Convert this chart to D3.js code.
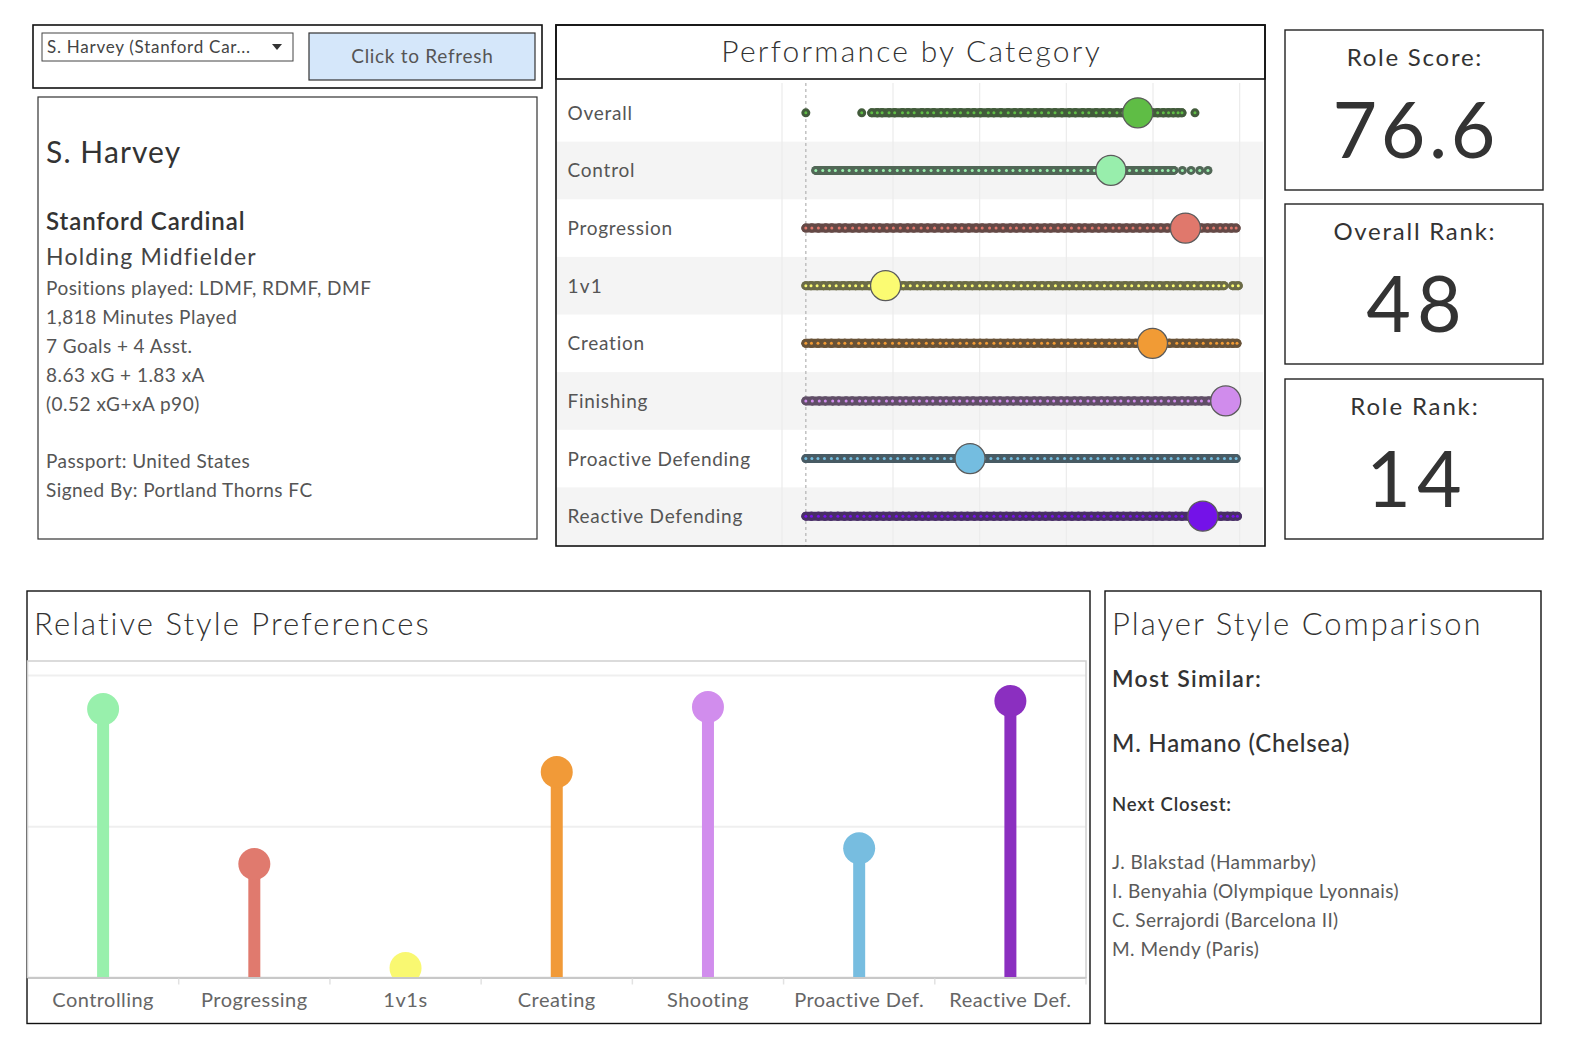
<!DOCTYPE html>
<html>
<head>
<meta charset="utf-8">
<script src="https://cdn.jsdelivr.net/npm/d3@7"></script>
<style>
  html, body { margin: 0; padding: 0; background: #fff; }
  svg { display: block; font-family: Lato, "Open Sans", sans-serif; }
</style>
</head>
<body>
<script>
// ---------------- DATA ----------------
const playerName = "S. Harvey";
const dropdownLabel = "S. Harvey (Stanford Car...";
const buttonLabel = "Click to Refresh";
const infoLines = [
  "Positions played: LDMF, RDMF, DMF",
  "1,818 Minutes Played",
  "7 Goals + 4 Asst.",
  "8.63 xG + 1.83 xA",
  "(0.52 xG+xA p90)"
];
const infoFooter = ["Passport: United States", "Signed By: Portland Thorns FC"];
const team = "Stanford Cardinal";
const role = "Holding Midfielder";

const kpiLabels = ["Role Score:", "Overall Rank:", "Role Rank:"];
const kpiValues = ["76.6", "48", "14"];

const perfCategories = ["Overall", "Control", "Progression", "1v1", "Creation", "Finishing", "Proactive Defending", "Reactive Defending"];
const perfPlayer = [76.6, 70.4, 87.6, 18.4, 80.0, 96.9, 37.9, 91.6];
const perfColors = ["#5fbd45", "#98eeac", "#e0786c", "#fbfb72", "#f19b35", "#d08cec", "#74bde0", "#7412e8"];
const perfTicks = [0, 20, 40, 60, 80, 100];

// population scores of all players, per category
const popOverall = [0, 12.9, 15.2, 16.5, 17.6, 19.2, 20.5, 22.3, 23.6, 25.0, 26.8, 28.1, 29.5, 31.2, 32.6, 34.3, 35.7, 37.4, 38.8, 40.3, 42.1, 43.4, 45.0, 46.7, 48.2, 49.6, 51.3, 52.9, 54.4, 56.0, 57.5, 59.1, 60.8, 62.2, 63.9, 65.3, 67.0, 68.6, 70.1, 71.8, 73.2, 74.9, 76.2, 77.5, 78.3, 79.8, 81.2, 82.5, 83.7, 84.8, 85.9, 86.8, 89.8];
const popControl = [2.3, 3.9, 5.4, 6.8, 8.5, 10.0, 11.6, 13.1, 14.8, 16.3, 17.9, 19.4, 21.1, 22.6, 24.2, 25.8, 27.3, 28.9, 30.5, 32.0, 33.7, 35.2, 36.8, 38.4, 39.9, 41.5, 43.1, 44.6, 46.3, 47.8, 49.4, 51.0, 52.5, 54.1, 55.7, 57.2, 58.8, 60.4, 61.9, 63.5, 65.1, 66.6, 68.3, 70.0, 71.6, 73.2, 74.7, 76.3, 77.8, 79.4, 80.9, 82.3, 83.6, 84.9, 86.9, 88.9, 90.9, 92.8];
const popProgression = [0, 1.4, 2.9, 4.6, 6.0, 7.7, 9.1, 10.8, 12.3, 13.9, 15.6, 17.0, 18.7, 20.2, 21.8, 23.5, 24.9, 26.6, 28.1, 29.7, 31.4, 32.8, 34.5, 36.0, 37.6, 39.3, 40.7, 42.4, 43.9, 45.5, 47.2, 48.6, 50.3, 51.8, 53.4, 55.1, 56.5, 58.2, 59.7, 61.3, 63.0, 64.4, 66.1, 67.6, 69.2, 70.9, 72.3, 74.0, 75.5, 77.1, 78.8, 80.2, 81.9, 83.4, 85.0, 86.6, 88.1, 89.7, 91.2, 92.7, 94.1, 95.6, 96.9, 98.2, 99.3];
const pop1v1 = [0, 1.2, 2.6, 4.1, 5.5, 7.0, 8.6, 10.1, 11.5, 13.0, 14.6, 16.2, 17.8, 19.3, 20.9, 22.5, 24.1, 25.7, 27.2, 28.8, 30.5, 32.0, 33.6, 35.3, 36.8, 38.4, 40.1, 41.6, 43.2, 44.9, 46.4, 48.0, 49.7, 51.2, 52.8, 54.5, 56.0, 57.6, 59.3, 60.8, 62.4, 64.1, 65.6, 67.2, 68.9, 70.4, 72.0, 73.7, 75.2, 76.8, 78.5, 80.0, 81.6, 83.3, 84.8, 86.4, 88.1, 89.6, 91.2, 92.7, 94.0, 95.3, 96.5, 98.5, 99.8];
const popCreation = [0, 1.3, 2.8, 4.4, 5.9, 7.6, 9.0, 10.5, 12.2, 13.7, 15.4, 16.8, 18.3, 20.0, 21.5, 23.2, 24.6, 26.1, 27.8, 29.3, 31.0, 32.4, 33.9, 35.6, 37.1, 38.8, 40.2, 41.7, 43.4, 44.9, 46.6, 48.0, 49.5, 51.2, 52.7, 54.4, 55.8, 57.3, 59.0, 60.5, 62.2, 63.6, 65.1, 66.8, 68.3, 70.0, 71.4, 72.9, 74.6, 76.1, 77.8, 79.2, 80.7, 82.4, 83.9, 85.6, 87.0, 88.5, 90.2, 91.7, 93.4, 94.8, 96.1, 97.4, 98.5, 99.5];
const popFinishing = [0, 1.5, 3.1, 4.5, 6.2, 7.6, 9.3, 10.7, 12.4, 13.8, 15.5, 16.9, 18.6, 20.0, 21.7, 23.1, 24.8, 26.2, 27.9, 29.3, 31.0, 32.4, 34.1, 35.5, 37.2, 38.6, 40.3, 41.7, 43.4, 44.8, 46.5, 47.9, 49.6, 51.0, 52.7, 54.1, 55.8, 57.2, 58.9, 60.3, 62.0, 63.4, 65.1, 66.5, 68.2, 69.6, 71.3, 72.7, 74.4, 75.8, 77.5, 78.9, 80.6, 82.0, 83.7, 85.1, 86.8, 88.2, 89.9, 91.3, 93.0, 94.4, 95.8, 97.4, 98.9];
const popProactive = [0, 1.4, 2.8, 4.3, 5.9, 7.3, 8.9, 10.4, 11.9, 13.5, 15.0, 16.6, 18.1, 19.6, 21.2, 22.7, 24.3, 25.8, 27.3, 28.9, 30.4, 32.0, 33.5, 35.0, 36.6, 38.1, 39.7, 41.2, 42.7, 44.3, 45.8, 47.4, 48.9, 50.4, 52.0, 53.5, 55.1, 56.6, 58.1, 59.7, 61.2, 62.8, 64.3, 65.8, 67.4, 68.9, 70.5, 72.0, 73.5, 75.1, 76.6, 78.2, 79.7, 81.2, 82.8, 84.3, 85.9, 87.4, 88.9, 90.5, 92.0, 93.6, 95.1, 96.6, 98.0, 99.3];
const popReactive = [0, 1.3, 2.9, 4.4, 5.8, 7.4, 8.9, 10.3, 11.9, 13.4, 14.8, 16.4, 17.9, 19.3, 20.9, 22.4, 23.8, 25.4, 26.9, 28.3, 29.9, 31.4, 32.8, 34.4, 35.9, 37.3, 38.9, 40.4, 41.8, 43.4, 44.9, 46.3, 47.9, 49.4, 50.8, 52.4, 53.9, 55.3, 56.9, 58.4, 59.8, 61.4, 62.9, 64.3, 65.9, 67.4, 68.8, 70.4, 71.9, 73.3, 74.9, 76.4, 77.8, 79.4, 80.9, 82.3, 83.9, 85.4, 86.8, 88.4, 89.9, 91.3, 92.9, 94.4, 95.8, 97.3, 98.6, 99.6];
const perfPopulations = [popOverall, popControl, popProgression, pop1v1, popCreation, popFinishing, popProactive, popReactive];

const styleCategories = ["Controlling", "Progressing", "1v1s", "Creating", "Shooting", "Proactive Def.", "Reactive Def."];
const styleValues = [0.887, 0.375, 0.031, 0.679, 0.894, 0.427, 0.914];
const styleColors = ["#98f0ac", "#e07a6e", "#f9f871", "#f19a38", "#d18ded", "#77bde0", "#8b2fc0"];
const styleTicks = [0, 0.5, 1];

const mostSimilar = "M. Hamano (Chelsea)";
const nextClosest = ["J. Blakstad (Hammarby)", "I. Benyahia (Olympique Lyonnais)", "C. Serrajordi (Barcelona II)", "M. Mendy (Paris)"];

// ---------------- DRAW ----------------
const W = 1578, H = 1046;
const svg = d3.select("body").append("svg").attr("width", W).attr("height", H);

// widen Lato glyph runs to match the reference typeface metrics
function widen(sel, stretch) {
  if (!stretch || stretch === 1) return sel;
  sel.each(function () {
    const n = this.textContent.length;
    const L = this.getComputedTextLength();
    const ls = L * (stretch - 1) / Math.max(1, n - 1);
    const t = d3.select(this).attr("letter-spacing", ls.toFixed(2));
    if (t.attr("text-anchor") === "middle") t.attr("dx", (ls / 2).toFixed(2));
  });
  return sel;
}
function txt(g, x, y, s, size, o = {}) {
  const t = g.append("text").attr("x", x).attr("y", y).text(s)
    .attr("font-size", size)
    .attr("font-weight", o.weight || 400)
    .attr("fill", o.fill || "#555")
    .attr("text-anchor", o.anchor || "start");
  return widen(t, o.stretch);
}
function box(x0, y0, x1, y1, stroke = "#222", sw = 1.4, fill = "none") {
  svg.append("rect").attr("x", x0).attr("y", y0).attr("width", x1 - x0).attr("height", y1 - y0)
    .attr("fill", fill).attr("stroke", stroke).attr("stroke-width", sw);
}

// ---- top-left controls ----
box(33, 25, 542, 88, "#111", 1.6);
box(42, 33, 293, 61, "#444", 1);
txt(svg, 47, 53, dropdownLabel, 17, { fill: "#444", stretch: 1.1 });
svg.append("path").attr("d", "M272,44 L282,44 L277,50 Z").attr("fill", "#333");
box(309, 33, 535, 80, "#333", 1.2, "#d5e7fa");
txt(svg, 422, 63, buttonLabel, 19, { fill: "#555", anchor: "middle", stretch: 1.08 });

// ---- info box ----
box(38, 97, 537, 539, "#333", 1.2);
txt(svg, 46, 163, playerName, 30, { fill: "#333", stretch: 1.07 });
txt(svg, 46, 230, team, 24, { fill: "#333", weight: 600, stretch: 1.08 });
txt(svg, 46, 265, role, 23, { fill: "#444", stretch: 1.11 });
infoLines.forEach((s, i) => txt(svg, 46, 295 + i * 29, s, 19, { fill: "#555", stretch: 1.05 }));
infoFooter.forEach((s, i) => txt(svg, 46, 468 + i * 29, s, 19, { fill: "#555", stretch: 1.05 }));

// ---- KPI boxes ----
const kpiTops = [30, 204, 379], kpiH = 160;
kpiLabels.forEach((lab, i) => {
  const t = kpiTops[i];
  box(1285, t, 1543, t + kpiH, "#222", 1.4);
  txt(svg, 1414, t + 35.5, lab, 24, { fill: "#333", anchor: "middle", stretch: 1.15 });
  txt(svg, 1414, t + 128, kpiValues[i], 77, { fill: "#333", anchor: "middle", stretch: 1.07 });
});

// ---- Performance by Category ----
const pL = 556, pR = 1265, pT = 25, pTitleB = 79, pB = 546;
const x = d3.scaleLinear().domain([-5.5, 105.5]).range([782, 1263]);
const yb = d3.scaleBand().domain(perfCategories).range([84, 545]);
const perf = svg.append("g");
perf.selectAll("rect.band").data(perfCategories.filter((d, i) => i % 2 === 1)).join("rect")
  .attr("x", pL).attr("width", 1263 - pL).attr("y", d => yb(d)).attr("height", yb.bandwidth())
  .attr("fill", "#f4f4f4");
// gridlines via axis
const gAxis = perf.append("g").attr("transform", `translate(0,${pB})`)
  .call(d3.axisBottom(x).tickValues(perfTicks.slice(1)).tickSize(-(pB - pTitleB - 4)).tickFormat(""));
gAxis.select(".domain").remove();
gAxis.selectAll("line").attr("stroke", "#ebebeb").attr("stroke-width", 1.2);
perf.append("line").attr("x1", x(-5.5)).attr("x2", x(-5.5)).attr("y1", 83).attr("y2", pB)
  .attr("stroke", "#ebebeb").attr("stroke-width", 1.2);
perf.append("line").attr("x1", x(perfTicks[0])).attr("x2", x(perfTicks[0])).attr("y1", 83).attr("y2", pB)
  .attr("stroke", "#b8b8b8").attr("stroke-width", 1.3).attr("stroke-dasharray", "3,3");
// row labels
perfCategories.forEach(c => txt(perf, 567.5, yb(c) + yb.bandwidth() / 2 + 7, c, 19, { fill: "#555", stretch: 1.075 }));
// strips
perfCategories.forEach((c, i) => {
  const cy = yb(c) + yb.bandwidth() / 2;
  const pop = perfPopulations[i].slice().sort((a, b) => a - b);
  const halo = d3.interpolateRgb(perfColors[i], "#383838")(0.74);
  const g = perf.append("g");
  const pairs = d3.pairs(pop).filter(([a, b]) => b - a <= 1.85);
  g.selectAll("line").data(pairs).join("line")
    .attr("x1", d => x(d[0])).attr("x2", d => x(d[1])).attr("y1", cy).attr("y2", cy)
    .attr("stroke", halo).attr("stroke-width", 9).attr("stroke-linecap", "round");
  g.selectAll("circle.h").data(pop).join("circle").attr("class", "h")
    .attr("cx", d => x(d)).attr("cy", cy).attr("r", 4.5).attr("fill", halo);
  g.selectAll("circle.c").data(pop).join("circle").attr("class", "c")
    .attr("cx", d => x(d)).attr("cy", cy).attr("r", 1.5).attr("fill", perfColors[i]);
  g.append("circle").attr("cx", x(perfPlayer[i])).attr("cy", cy).attr("r", 15)
    .attr("fill", perfColors[i]).attr("stroke", "#5b5b5b").attr("stroke-width", 1.3);
});
box(pL, pT, pR, pTitleB, "#111", 1.6);
box(pL, pT, pR, pB, "#111", 1.6);
txt(svg, (pL + pR) / 2, 62, "Performance by Category", 30, { fill: "#333", anchor: "middle", weight: 300, stretch: 1.15 });

// ---- Relative Style Preferences ----
const sL = 27.5, sR = 1086, sT = 661, sB = 977.5;
box(27, 591, 1090, 1023.5, "#111", 1.4);
txt(svg, 34, 635, "Relative Style Preferences", 31, { fill: "#333", weight: 300, stretch: 1.15 });
const xs = d3.scaleBand().domain(styleCategories).range([sL, sR]);
const ys = d3.scaleLinear().domain([0, 1.046]).range([sB, sT]);
const sg = svg.append("g");
const gy = sg.append("g").attr("transform", `translate(${sL},0)`)
  .call(d3.axisLeft(ys).tickValues(styleTicks.slice(1)).tickSize(-(sR - sL)).tickFormat(""));
gy.select(".domain").remove();
gy.selectAll("line").attr("stroke", "#efefef").attr("stroke-width", 2);
sg.append("rect").attr("x", sL).attr("y", sT).attr("width", sR - sL).attr("height", sB - sT)
  .attr("fill", "none").attr("stroke", "#d0d0d0").attr("stroke-width", 1.5);
svg.append("clipPath").attr("id", "sclip").append("rect")
  .attr("x", sL).attr("y", sT).attr("width", sR - sL).attr("height", sB - sT);
const lol = sg.append("g").attr("clip-path", "url(#sclip)");
lol.selectAll("line").data(styleCategories).join("line")
  .attr("x1", d => xs(d) + xs.bandwidth() / 2).attr("x2", d => xs(d) + xs.bandwidth() / 2)
  .attr("y1", ys(0)).attr("y2", (d, i) => ys(styleValues[i]))
  .attr("stroke", (d, i) => styleColors[i]).attr("stroke-width", 12);
lol.selectAll("circle").data(styleCategories).join("circle")
  .attr("cx", d => xs(d) + xs.bandwidth() / 2).attr("cy", (d, i) => ys(styleValues[i])).attr("r", 16)
  .attr("fill", (d, i) => styleColors[i]);
const gx = sg.append("g").attr("transform", `translate(0,${sB})`)
  .call(d3.axisBottom(xs).tickSize(0).tickPadding(15.5));
gx.select(".domain").attr("stroke", "#c8c8c8").attr("stroke-width", 2);
gx.selectAll("text").attr("font-size", 20).attr("fill", "#666").attr("font-family", "Lato, sans-serif");
widen(gx.selectAll("text"), 1.045);
sg.selectAll("line.sep").data(styleCategories.slice(1).concat(["__end"])).join("line").attr("class", "sep")
  .attr("x1", d => d === "__end" ? sR : xs(d)).attr("x2", d => d === "__end" ? sR : xs(d))
  .attr("y1", sB + 1).attr("y2", sB + 7).attr("stroke", "#e2e2e2").attr("stroke-width", 1.5);

// ---- Player Style Comparison ----
box(1105, 591, 1541, 1023.5, "#111", 1.4);
txt(svg, 1112, 635, "Player Style Comparison", 31, { fill: "#333", weight: 300, stretch: 1.14 });
txt(svg, 1112, 687, "Most Similar:", 23, { fill: "#333", weight: 600, stretch: 1.12 });
txt(svg, 1112, 752, mostSimilar, 24, { fill: "#333", weight: 500, stretch: 1.06 });
txt(svg, 1112, 810.5, "Next Closest:", 18.5, { fill: "#333", weight: 600, stretch: 1.09 });
nextClosest.forEach((s, i) => txt(svg, 1112, 869 + i * 29, s, 19, { fill: "#5a5a5a", weight: 400, stretch: 1.05 }));
</script>
</body>
</html>
